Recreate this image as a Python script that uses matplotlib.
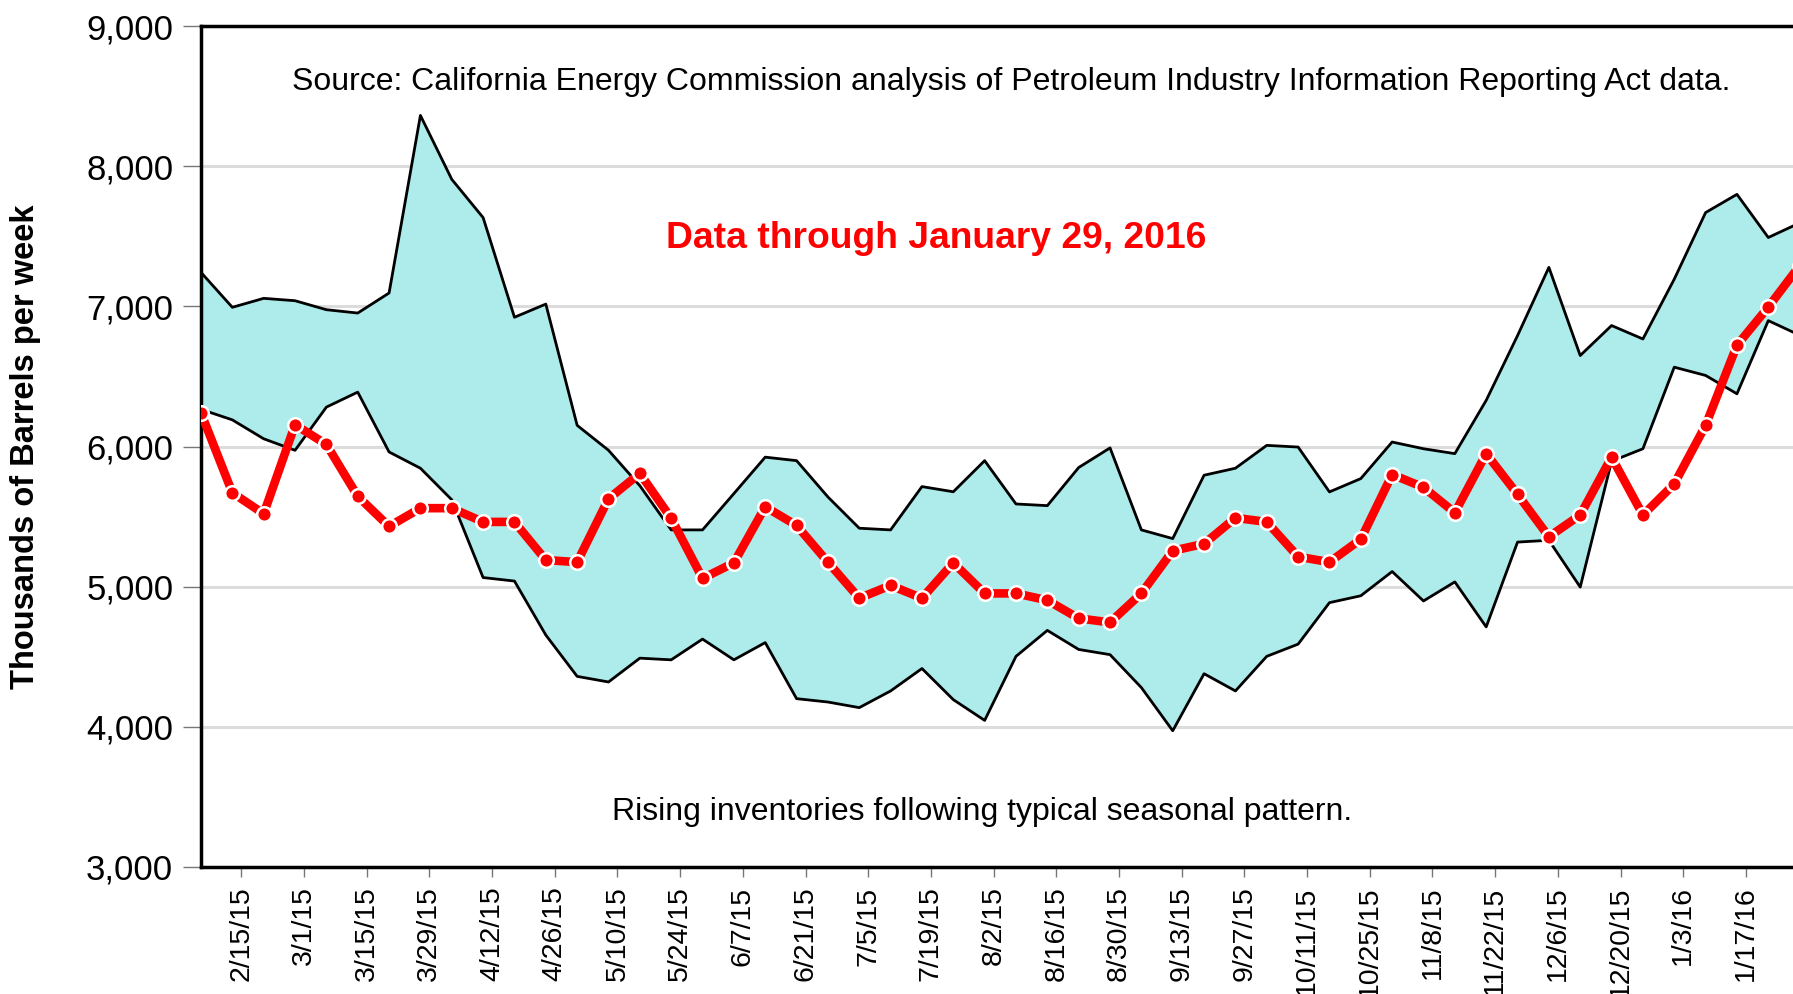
import matplotlib
matplotlib.use("Agg")
import matplotlib.pyplot as plt
import pandas as pd

plt.rcParams['font.family'] = ['Liberation Sans', 'DejaVu Sans']

# weekly data (Fridays), thousands of barrels per week
weeks = pd.date_range("2015-02-06", periods=52, freq="7D")

current = [6240, 5670, 5520, 6155, 6015, 5645, 5430, 5560, 5560, 5462,
           5462, 5190, 5175, 5627, 5808, 5488, 5059, 5170, 5570, 5437,
           5175, 4918, 5009, 4918, 5170, 4952, 4952, 4903, 4774, 4745,
           4952, 5256, 5306, 5491, 5462, 5214, 5175, 5338, 5800, 5709,
           5528, 5949, 5659, 5356, 5511, 5924, 5511, 5733, 6151, 6722,
           6995, 7290]

range_max = [7242, 6993, 7057, 7040, 6976, 6952, 7095, 8362, 7906, 7633,
             6922, 7016, 6151, 5973, 5720, 5405, 5405, 5664, 5924, 5899,
             5640, 5417, 5405, 5714, 5677, 5899, 5590, 5578, 5850, 5990,
             5405, 5343, 5795, 5845, 6008, 5996, 5676, 5771, 6032, 5984,
             5949, 6329, 6791, 7278, 6649, 6863, 6767, 7194, 7669, 7799,
             7491, 7595]

range_min = [6265, 6190, 6055, 5973, 6281, 6388, 5961, 5845, 5620, 5065,
             5040, 4655, 4360, 4320, 4490, 4478, 4626, 4478, 4601, 4201,
             4177, 4137, 4256, 4416, 4194, 4046, 4503, 4688, 4552, 4515,
             4280, 3972, 4379, 4256, 4503, 4590, 4886, 4935, 5108, 4898,
             5034, 4713, 5318, 5331, 4997, 5895, 5984, 6566, 6507, 6376,
             6898, 6794]

tick_dates = pd.date_range("2015-02-15", "2016-01-17", freq="14D")
tick_labels = [f"{d.month}/{d.day}/{d:%y}" for d in tick_dates]

W, H = 1793, 994
fig = plt.figure(figsize=(W / 100, H / 100), dpi=100)

# axes runs past the right edge of the picture, like the original crop
x0, y_top, y_bot = 201, 26, 867
ax_w = 364 * 4.478
ax = fig.add_axes([x0 / W, 1 - y_bot / H, ax_w / W, (y_bot - y_top) / H])

ax.fill_between(weeks, range_min, range_max, color="#aeecec", zorder=2, lw=0)
ax.plot(weeks, range_max, color="black", lw=2.0, zorder=3)
ax.plot(weeks, range_min, color="black", lw=2.0, zorder=3)
ax.plot(weeks, current, color="#ff0000", lw=6.2, zorder=4,
        marker="o", markersize=10.5, markerfacecolor="#ff0000",
        markeredgecolor="white", markeredgewidth=1.8)

ax.set_xlim(pd.Timestamp("2015-02-06"), pd.Timestamp("2016-02-05"))
ax.set_ylim(3000, 9000)
ax.set_yticks(range(3000, 9001, 1000))
ax.set_yticklabels([f"{v:,}" for v in range(3000, 9001, 1000)], fontsize=25)
ax.set_xticks(tick_dates)
ax.set_xticklabels(tick_labels, rotation=90, fontsize=20.5)

ax.yaxis.grid(True, color="#dcdcdc", lw=2.2, zorder=1)
ax.set_axisbelow(True)
ax.tick_params(axis="y", length=13, width=1, color="#777777", pad=7)
ax.tick_params(axis="x", length=7, width=1, color="#777777", pad=7)
for s in ax.spines.values():
    s.set_linewidth(2.5)
    s.set_color("black")

fig.text(26 / W, 1 - 447 / H, "Thousands of Barrels per week",
         rotation=90, ha="center", va="center", fontsize=23.5, fontweight="bold")

fig.text(1011 / W, 1 - 90 / H,
         "Source: California Energy Commission analysis of Petroleum Industry Information Reporting Act data.",
         ha="center", va="baseline", fontsize=23)
fig.text(936 / W, 1 - 248 / H, "Data through January 29, 2016",
         ha="center", va="baseline", fontsize=26.8, fontweight="bold", color="#ff0000")
fig.text(982 / W, 1 - 820 / H, "Rising inventories following typical seasonal pattern.",
         ha="center", va="baseline", fontsize=23)

plt.savefig("out.png", dpi=100)
